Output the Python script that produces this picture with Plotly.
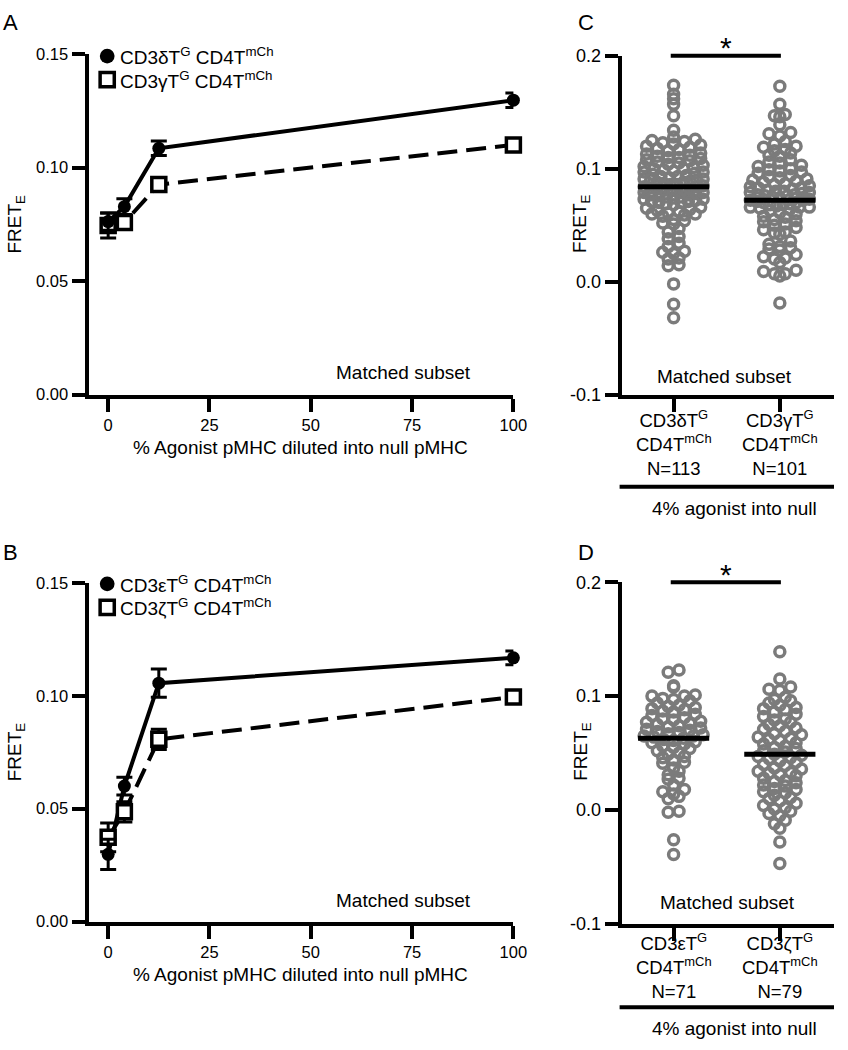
import numpy as np
import plotly.graph_objects as go

# ---------------- data ----------------
dilution_pct = [0, 4, 12.5, 100]

A_delta_mean = [0.0762, 0.0828, 0.1085, 0.1297]
A_delta_sem = [0.0038, 0.0035, 0.0032, 0.0032]
A_gamma_mean = [0.0745, 0.0758, 0.0925, 0.1100]
A_gamma_sem = [0.0055, 0.0020, 0.0020, 0.0015]

B_eps_mean = [0.0298, 0.0600, 0.1056, 0.1168]
B_eps_sem = [0.0067, 0.0039, 0.0063, 0.0030]
B_zeta_mean = [0.0373, 0.0486, 0.0807, 0.0995]
B_zeta_sem = [0.0064, 0.0045, 0.0045, 0.0020]

legend_A = ["CD3δT<sup>G</sup> CD4T<sup>mCh</sup>", "CD3γT<sup>G</sup> CD4T<sup>mCh</sup>"]
legend_B = ["CD3εT<sup>G</sup> CD4T<sup>mCh</sup>", "CD3ζT<sup>G</sup> CD4T<sup>mCh</sup>"]

C_categories = ["CD3δT<sup>G</sup>", "CD3γT<sup>G</sup>"]
D_categories = ["CD3εT<sup>G</sup>", "CD3ζT<sup>G</sup>"]

C_delta = [0.174, 0.166, 0.162, 0.157, 0.147, 0.134,
           0.128, 0.126, 0.125, 0.124, 0.123, 0.122, 0.121, 0.120,
           0.119, 0.118, 0.117, 0.116, 0.114, 0.113, 0.112, 0.111, 0.110, 0.110,
           0.109, 0.108, 0.107, 0.106, 0.105, 0.104, 0.103, 0.102, 0.101, 0.100, 0.100,
           0.099, 0.098, 0.097, 0.097, 0.096, 0.095, 0.094, 0.093, 0.093, 0.092, 0.091, 0.091, 0.090, 0.090,
           0.089, 0.088, 0.088, 0.087, 0.086, 0.086, 0.085, 0.084, 0.084, 0.083, 0.082, 0.082, 0.081, 0.081, 0.080, 0.080,
           0.079, 0.079, 0.078, 0.077, 0.077, 0.076, 0.075, 0.075, 0.074, 0.073, 0.073, 0.072, 0.071, 0.071, 0.070, 0.070,
           0.069, 0.068, 0.066, 0.065, 0.064, 0.063, 0.062, 0.061, 0.060, 0.060,
           0.059, 0.058, 0.055, 0.054, 0.052, 0.051,
           0.047, 0.044, 0.040, 0.038, 0.034, 0.031,
           0.027, 0.026, 0.025, 0.021, 0.020,
           0.015, 0.014, -0.002, -0.020, -0.032]
C_gamma = [0.173, 0.157, 0.148, 0.147, 0.146, 0.139, 0.132, 0.131, 0.129,
           0.124, 0.122, 0.120, 0.119, 0.117, 0.116, 0.114, 0.112, 0.111,
           0.108, 0.106, 0.105, 0.103, 0.102, 0.100, 0.099, 0.098, 0.097, 0.096,
           0.094, 0.093, 0.092, 0.091, 0.090, 0.089, 0.088, 0.087, 0.086, 0.085,
           0.084, 0.083, 0.083, 0.082, 0.081, 0.080, 0.080, 0.079, 0.079, 0.078, 0.077, 0.077, 0.076, 0.076, 0.075,
           0.074, 0.073, 0.072, 0.072, 0.071, 0.070, 0.070, 0.069, 0.068, 0.068, 0.067, 0.066, 0.066, 0.066, 0.065,
           0.064, 0.063, 0.061, 0.060, 0.058, 0.057, 0.055, 0.054, 0.053, 0.051, 0.050,
           0.048, 0.046, 0.044, 0.043, 0.042,
           0.036, 0.033, 0.031, 0.030, 0.029, 0.028,
           0.024, 0.022, 0.021, 0.020, 0.017,
           0.010, 0.009, 0.007, 0.007, 0.005, -0.019]
C_means = [0.084, 0.072]

D_eps = [0.123, 0.121, 0.109, 0.108, 0.101, 0.100, 0.100,
         0.098, 0.097, 0.096, 0.094, 0.092, 0.091, 0.090, 0.089, 0.088, 0.087, 0.086,
         0.084, 0.083, 0.081, 0.080, 0.079, 0.078, 0.077, 0.076, 0.075, 0.074, 0.073, 0.072, 0.071, 0.070,
         0.069, 0.068, 0.067, 0.066, 0.065, 0.065, 0.064, 0.063, 0.062, 0.061, 0.060, 0.059, 0.058, 0.056, 0.055,
         0.054, 0.052, 0.050, 0.049, 0.047, 0.046, 0.044, 0.042, 0.041,
         0.037, 0.034, 0.031, 0.028, 0.027, 0.022,
         0.018, 0.016, 0.014, 0.012, 0.010, -0.001, -0.002, -0.026, -0.039]
D_zeta = [0.139, 0.115, 0.108, 0.106, 0.105,
          0.099, 0.097, 0.096, 0.094, 0.092, 0.090, 0.089, 0.088, 0.086,
          0.084, 0.082, 0.080, 0.079, 0.077, 0.075, 0.074, 0.072, 0.071,
          0.069, 0.067, 0.066, 0.064, 0.063, 0.062, 0.061, 0.059, 0.058, 0.056, 0.055,
          0.054, 0.052, 0.051, 0.049, 0.048, 0.047, 0.046, 0.045, 0.043, 0.042, 0.040,
          0.039, 0.037, 0.036, 0.034, 0.033, 0.032, 0.031, 0.030, 0.028, 0.026, 0.025,
          0.024, 0.022, 0.021, 0.019, 0.018, 0.016, 0.015, 0.013, 0.011, 0.010,
          0.008, 0.006, 0.004, 0.002, 0.001, -0.001, -0.003, -0.005, -0.009, -0.012, -0.016, -0.028, -0.047]
D_means = [0.063, 0.049]

# ---------------- helpers ----------------
W, H = 848, 1050
FONT = "Liberation Sans, Arial, Helvetica, sans-serif"
GREY = "#7b7b7b"


def px(x):
    return x / W


def py(y):
    return 1 - y / H


fig = go.Figure()


def add_line_panel(xa, ya, xs, m1, e1, m2, e2):
    common = dict(xaxis=xa, yaxis=ya, showlegend=False, hoverinfo="skip", cliponaxis=False)
    fig.add_trace(go.Scatter(x=xs, y=m1, mode="lines", line=dict(color="black", width=4), **common))
    fig.add_trace(go.Scatter(x=xs, y=m2, mode="lines",
                             line=dict(color="black", width=4, dash="20px,9px"), **common))
    fig.add_trace(go.Scatter(x=xs, y=m2, mode="markers",
                             marker=dict(symbol="square", size=14, color="white",
                                         line=dict(color="black", width=3.5)),
                             error_y=dict(type="data", array=e2, color="black", thickness=3, width=8),
                             **common))
    fig.add_trace(go.Scatter(x=xs, y=m1, mode="markers",
                             marker=dict(symbol="circle", size=13, color="black"),
                             error_y=dict(type="data", array=e1, color="black", thickness=3, width=8),
                             **common))


def swarm(vals, y_px_per_unit, bin_px=7.0, step_px=11.0, max_half_px=30.0):
    v = np.sort(np.asarray(vals, dtype=float))
    bins = np.floor(v * y_px_per_unit / bin_px).astype(int)
    offs = np.zeros(len(v))
    for b in np.unique(bins):
        idx = np.where(bins == b)[0]
        n = len(idx)
        if n == 1:
            continue
        s = step_px if (n - 1) * step_px <= 2 * max_half_px else 2 * max_half_px / (n - 1)
        slots = (np.arange(n) - (n - 1) / 2) * s
        slots = slots[np.argsort(np.abs(slots), kind="stable")]
        offs[idx] = slots
    return v, offs


def add_dot_panel(xa, ya, groups, means, y_px_per_unit, x_px_per_unit):
    common = dict(xaxis=xa, yaxis=ya, showlegend=False, hoverinfo="skip", cliponaxis=False)
    for i, vals in enumerate(groups):
        v, offs = swarm(vals, y_px_per_unit)
        fig.add_trace(go.Scatter(x=i + offs / x_px_per_unit, y=v, mode="markers",
                                 marker=dict(symbol="circle-open", size=10, color=GREY,
                                             line=dict(width=3.5, color=GREY)), **common))
    for i, m in enumerate(means):
        fig.add_trace(go.Scatter(x=[i - 0.335, i + 0.335], y=[m, m], mode="lines",
                                 line=dict(color="black", width=5), **common))


add_line_panel("x", "y", dilution_pct, A_delta_mean, A_delta_sem, A_gamma_mean, A_gamma_sem)
add_line_panel("x3", "y3", dilution_pct, B_eps_mean, B_eps_sem, B_zeta_mean, B_zeta_sem)
add_dot_panel("x2", "y2", [C_delta, C_gamma], C_means, 1150, 108)
add_dot_panel("x4", "y4", [D_eps, D_zeta], D_means, 1160, 108)

axis_common = dict(showline=True, linewidth=4, linecolor="black", ticks="outside", ticklen=13,
                   tickwidth=4, tickcolor="black", showgrid=False, zeroline=False,
                   tickfont=dict(family=FONT, size=16.5, color="black"))

fig.update_layout(
    width=W, height=H, margin=dict(l=0, r=0, t=0, b=0),
    paper_bgcolor="white", plot_bgcolor="white", showlegend=False,
    font=dict(family=FONT, color="black"),
    xaxis=dict(domain=[px(90), px(522)], range=[-4.85, 100], tickvals=[0, 25, 50, 75, 100],
               anchor="y", **axis_common),
    yaxis=dict(domain=[py(392), py(45)], range=[0, 0.15], tickvals=[0, 0.05, 0.10, 0.15],
               tickformat=".2f", anchor="x", **axis_common),
    xaxis3=dict(domain=[px(90), px(522)], range=[-4.85, 100], tickvals=[0, 25, 50, 75, 100],
                anchor="y3", **axis_common),
    yaxis3=dict(domain=[py(929.3), py(584)], range=[0, 0.15], tickvals=[0, 0.05, 0.10, 0.15],
                tickformat=".2f", anchor="x3", **axis_common),
)
dot_axis = dict(axis_common)
dot_axis["tickfont"] = dict(family=FONT, size=18, color="black")
fig.update_layout(
    xaxis2=dict(domain=[px(632), 1.0], range=[-0.49, 1.51], tickvals=[0, 1], showticklabels=False,
                anchor="y2", **dot_axis),
    yaxis2=dict(domain=[py(392), py(46.7)], range=[-0.1, 0.2], tickvals=[-0.1, 0, 0.1, 0.2],
                ticktext=["-0.1", "0.0", "0.1", "0.2"], anchor="x2", **dot_axis),
    xaxis4=dict(domain=[px(632), 1.0], range=[-0.49, 1.51], tickvals=[0, 1], showticklabels=False,
                anchor="y4", **dot_axis),
    yaxis4=dict(domain=[py(931.7), py(583.3)], range=[-0.1, 0.2], tickvals=[-0.1, 0, 0.1, 0.2],
                ticktext=["-0.1", "0.0", "0.1", "0.2"], anchor="x4", **dot_axis),
)

ann = []
shapes = []


def text(x, y, s, size=19, xanchor="center", yanchor="middle", angle=0, xref="paper", yref="paper", yshift=0):
    ann.append(dict(x=x, y=y, xref=xref, yref=yref, text=s, showarrow=False, xanchor=xanchor,
                    yanchor=yanchor, textangle=angle, yshift=yshift,
                    font=dict(family=FONT, size=size, color="black")))


# panel letters
for letter, (lx, ly) in {"A": (11, 13), "B": (11, 553), "C": (596, 13), "D": (596, 553)}.items():
    text(px(lx), py(ly), letter, size=22)

# y titles
for (tx, ty) in [(16, 218), (16, 756), (591, 218), (591, 756)]:
    text(px(tx), py(ty), "FRET<sub>E</sub>", angle=-90)

# x titles of line panels
text(px(306), py(446), "% Agonist pMHC diluted into null pMHC")
text(px(306), py(983), "% Agonist pMHC diluted into null pMHC")

# "Matched subset"
for (tx, ty) in [(410, 370), (410, 908), (737, 374), (740, 910)]:
    text(px(tx), py(ty), "Matched subset")

# legends of line panels (symbols as shapes)
for labels, (cy1, cy2) in [(legend_A, (47, 71)), (legend_B, (585, 609))]:
    shapes.append(dict(type="circle", xref="paper", yref="paper",
                       x0=px(109 - 7.5), x1=px(109 + 7.5), y0=py(cy1 + 7.5), y1=py(cy1 - 7.5),
                       fillcolor="black", line=dict(width=0)))
    shapes.append(dict(type="rect", xref="paper", yref="paper",
                       x0=px(109 - 7.2), x1=px(109 + 7.2), y0=py(cy2 + 7.2), y1=py(cy2 - 7.2),
                       fillcolor="white", line=dict(width=3.5, color="black")))
    text(px(120), py(cy1), labels[0], xanchor="left")
    text(px(120), py(cy2), labels[1], xanchor="left")

# category labels, significance and bottom bracket of dot panels
for (xa, cats, groups, midY, sigY, barY, txtY) in [
        ("x2", C_categories, [C_delta, C_gamma], 441.5, 46.7, 486, 508),
        ("x4", D_categories, [D_eps, D_zeta], 974.5, 583.3, 1016.7, 1038)]:
    for i, (c, g) in enumerate(zip(cats, groups)):
        text(i, py(midY), f"{c}<br>CD4T<sup>mCh</sup><br>N={len(g)}", size=18.5, xref=xa)
    shapes.append(dict(type="line", xref="paper", yref="paper", x0=px(630), x1=1.0,
                       y0=py(barY), y1=py(barY), line=dict(color="black", width=4)))
    text(px(747), py(txtY), "4% agonist into null")
    shapes.append(dict(type="line", xref="paper", yref="paper", x0=px(682), x1=px(794),
                       y0=py(sigY), y1=py(sigY), line=dict(color="black", width=4)))
    text(px(738), py(sigY - 8), "*", size=30)

fig.update_layout(annotations=ann, shapes=shapes)

fig.write_html("out.html", config={"displayModeBar": False},
               post_script="document.body.style.margin='0';"
                           "document.body.style.overflow='hidden';"
                           "document.documentElement.style.overflow='hidden';")
